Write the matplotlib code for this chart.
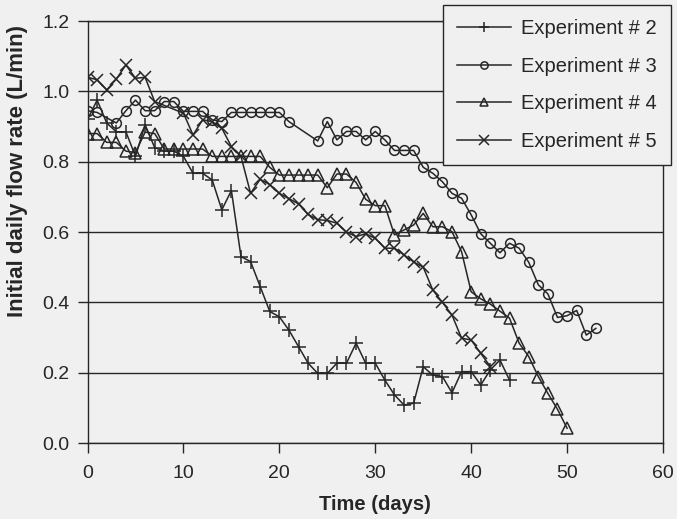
import matplotlib
matplotlib.use("Agg")
import matplotlib.pyplot as plt
import numpy as np

plt.rcParams['font.family'] = ['Liberation Sans', 'DejaVu Sans']

# values (day, L/min)
days2 = list(range(0, 45))
vals2 = [0.92, 0.975, 0.91, 0.885, 0.885, 0.815, 0.905, 0.84, 0.83, 0.83,
         0.815, 0.767, 0.767, 0.748, 0.663, 0.718, 0.53, 0.516, 0.445, 0.374,
         0.359, 0.321, 0.274, 0.227, 0.198, 0.198, 0.227, 0.227, 0.284, 0.227,
         0.227, 0.179, 0.137, 0.108, 0.113, 0.217, 0.193, 0.189, 0.143, 0.203,
         0.203, 0.165, 0.208, 0.236, 0.179]

days3 = [0, 1] + list(range(3, 22)) + list(range(24, 54))
vals3 = [0.945, 0.94, 0.91, 0.945, 0.975, 0.945, 0.945, 0.971, 0.971, 0.943,
         0.943, 0.943, 0.919, 0.914, 0.94, 0.94, 0.94, 0.94, 0.94, 0.94, 0.914,
         0.859, 0.914, 0.862, 0.886, 0.886, 0.862, 0.886, 0.862,
         0.832, 0.832, 0.832, 0.784, 0.767,
         0.743, 0.71, 0.696, 0.649, 0.595, 0.568,
         0.541, 0.568, 0.554, 0.514, 0.45, 0.424, 0.357, 0.362,
         0.377, 0.307, 0.326]

days4 = list(range(0, 51))
vals4 = [0.88, 0.88, 0.855, 0.855, 0.83, 0.826, 0.884, 0.88, 0.836, 0.836,
         0.836, 0.836, 0.836, 0.815, 0.815, 0.815, 0.815, 0.815, 0.815, 0.784,
         0.762, 0.762, 0.762, 0.762, 0.762,
         0.726, 0.765, 0.765, 0.741, 0.693, 0.675, 0.675,
         0.592, 0.606, 0.62, 0.653, 0.615, 0.615, 0.601, 0.544,
         0.43, 0.41, 0.395, 0.375, 0.355, 0.284, 0.246, 0.189, 0.141, 0.096, 0.042]

days5 = list(range(0, 8)) + list(range(10, 43))
vals5 = [1.04, 1.033, 1.004, 1.035, 1.075, 1.037, 1.04, 0.971,
         0.938, 0.876, 0.919, 0.914, 0.895, 0.843, 0.815,
         0.71, 0.75, 0.735, 0.71, 0.695, 0.68, 0.65, 0.635, 0.633, 0.625,
         0.6, 0.587, 0.595, 0.582, 0.554, 0.554, 0.535, 0.515, 0.5, 0.435,
         0.4, 0.364, 0.298, 0.293, 0.255, 0.217]

labels = ['Experiment # 2', 'Experiment # 3', 'Experiment # 4', 'Experiment # 5']

bg = '#f0f0f0'
ink = '#262626'

fig = plt.figure(figsize=(6.77, 5.19), dpi=100, facecolor=bg)
ax = fig.add_axes([0.1293, 0.1464, 0.8500, 0.8131], facecolor=bg)

kw = dict(color=ink, lw=1.1, mfc='none', mec=ink, mew=1.1)
l2, = ax.plot(days2, vals2, marker='+', ms=10, **kw)
l3, = ax.plot(days3, vals3, marker='o', ms=7, **kw)
l4, = ax.plot(days4, vals4, marker='^', ms=8, **kw)
l5, = ax.plot(days5, vals5, marker='x', ms=9, **kw)

ax.set_xlim(0, 60)
ax.set_ylim(0, 1.2)
ax.set_xticks([0, 10, 20, 30, 40, 50, 60])
ax.set_yticks(np.arange(0, 1.21, 0.2))
ax.set_yticklabels(['0.0', '0.2', '0.4', '0.6', '0.8', '1.0', '1.2'])
ax.yaxis.grid(True, color=ink, lw=1.0)
ax.set_axisbelow(True)
ax.tick_params(direction='out', length=7, width=1.0, color=ink,
               labelsize=14, labelcolor=ink)
ax.tick_params(axis='x', pad=9)
ax.tick_params(axis='y', pad=6)
for s in ax.spines.values():
    s.set_color(ink)
    s.set_linewidth(1.0)

ax.set_xlabel('Time (days)', fontsize=14.5, fontweight='bold', color=ink)
ax.xaxis.set_label_coords(0.5, -0.122)
ax.set_ylabel('Initial daily flow rate (L/min)', fontsize=16,
              fontweight='bold', color=ink)
ax.yaxis.set_label_coords(-0.103, 0.645)

leg = fig.legend([l2, l3, l4, l5], labels, loc='upper right',
                 bbox_to_anchor=(0.991, 0.990), borderaxespad=0.0,
                 fontsize=14.5, frameon=True, fancybox=False, edgecolor=ink,
                 facecolor=bg, framealpha=1.0, handlelength=2.7,
                 labelspacing=0.92, markerscale=0.75, borderpad=0.7,
                 handletextpad=0.5)
leg.get_frame().set_linewidth(1.0)
for t in leg.get_texts():
    t.set_color(ink)

fig.savefig('out.png', dpi=100, facecolor=bg)
